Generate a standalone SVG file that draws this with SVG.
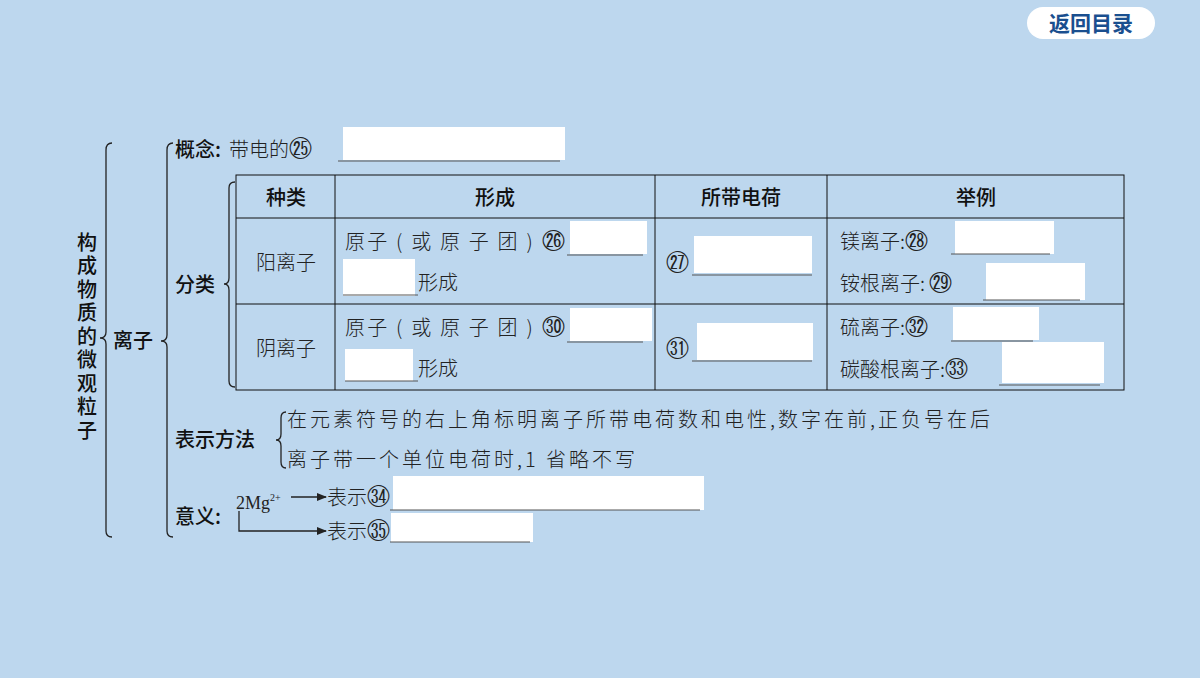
<svg xmlns="http://www.w3.org/2000/svg" width="1200" height="678" viewBox="0 0 1200 678">
<defs>
<style>
.h{font-family:"Noto Sans CJK SC","Noto Sans",sans-serif;font-size:20px;fill:#111;font-weight:500}
.s{font-family:"Noto Sans CJK SC",sans-serif;font-size:20px;fill:#222;font-weight:300}
.c{font-family:"DejaVu Sans",sans-serif;font-size:23px}
.ln{stroke:#222;fill:none;stroke-width:1.3}
.tb{stroke:#111;fill:none;stroke-width:1}
.w{fill:#fff}
.u{stroke:#555;stroke-width:1}
</style>
<marker id="ar" markerWidth="10" markerHeight="8" refX="9" refY="4" orient="auto" markerUnits="userSpaceOnUse"><path d="M0,0 L10,4 L0,8 Z" fill="#222"/></marker>
</defs>
<rect width="1200" height="678" fill="#bdd7ee"/>
<g id="back"><rect x="1027" y="7" width="128" height="32" rx="16" fill="#fff"/><text x="1091" y="31" text-anchor="middle" font-family="Noto Sans CJK SC,sans-serif" font-size="21" font-weight="bold" fill="#1a4f8f">返回目录</text></g>
<g id="connectors">
<path class="ln" d="M112,143 Q106,143 106,150 V332 Q106,338 100,338 Q106,338 106,344 V531 Q106,537 112,537"/>
<path class="ln" d="M173,143 Q167,143 167,150 V335 Q167,341 161,341 Q167,341 167,347 V531 Q167,537 173,537"/>
<path class="ln" d="M235,182 Q229,182 229,188 V278 Q229,284 224,284 Q229,284 229,290 V381 Q229,387 235,387"/>
<path class="ln" d="M286,412 Q281,412 281,418 V434 Q281,440 276,440 Q281,440 281,446 V462 Q281,468 286,468"/>
<line class="ln" x1="291" y1="497" x2="326" y2="497" marker-end="url(#ar)"/>
<path class="ln" d="M239,511 V531 H326" marker-end="url(#ar)"/>
</g>
<g id="title"><text class="h" x="87" y="232" letter-spacing="3.5" style="writing-mode:vertical-rl">构成物质的微观粒子</text></g>
<g id="ion"><text class="h" x="113" y="348">离子</text></g>
<g id="concept"><text class="h" x="175" y="157">概念:</text><text class="s" x="229" y="157">带电的<tspan class="c">㉕</tspan></text><rect class="w" x="343" y="127" width="222" height="33"/><line class="u" x1="338" y1="161" x2="560" y2="161"/></g>
<g id="classify"><text class="h" x="175" y="292">分类</text>
<rect class="tb" x="236" y="175" width="888" height="215" stroke-width="2"/>
<line class="tb" x1="335" y1="175" x2="335" y2="390"/><line class="tb" x1="655" y1="175" x2="655" y2="390"/><line class="tb" x1="827" y1="175" x2="827" y2="390"/>
<line class="tb" x1="236" y1="218" x2="1124" y2="218"/><line class="tb" x1="236" y1="304" x2="1124" y2="304"/>
<text class="h" x="286" y="205" text-anchor="middle">种类</text><text class="h" x="495" y="205" text-anchor="middle">形成</text><text class="h" x="741" y="205" text-anchor="middle">所带电荷</text><text class="h" x="976" y="205" text-anchor="middle">举例</text>
<text class="s" x="286" y="270" text-anchor="middle" font-size="21">阳离子</text><text class="s" x="286" y="356" text-anchor="middle" font-size="21">阴离子</text>
<text class="s" x="345" y="249" letter-spacing="2.2">原子 ( 或 原 子 团 ) <tspan class="c">㉖</tspan></text><rect class="w" x="570" y="221" width="77" height="33"/><line class="u" x1="567" y1="255" x2="643" y2="255"/>
<rect class="w" x="343" y="259" width="72" height="37"/><line class="u" x1="343" y1="295" x2="418" y2="295"/><text class="s" x="418" y="290">形成</text>
<text class="s" x="345" y="335" letter-spacing="2.2">原子 ( 或 原 子 团 ) <tspan class="c">㉚</tspan></text><rect class="w" x="570" y="308" width="82" height="33"/><line class="u" x1="567" y1="342" x2="643" y2="342"/>
<rect class="w" x="345" y="349" width="68" height="32"/><line class="u" x1="345" y1="381" x2="418" y2="381"/><text class="s" x="418" y="376">形成</text>
<text class="s c" x="666" y="271">㉗</text><rect class="w" x="694" y="236" width="118" height="37"/><line class="u" x1="692" y1="275" x2="812" y2="275"/>
<text class="s c" x="666" y="357">㉛</text><rect class="w" x="697" y="323" width="116" height="37"/><line class="u" x1="692" y1="361" x2="812" y2="361"/>
<text class="s" x="840" y="249">镁离子:<tspan class="c">㉘</tspan></text><rect class="w" x="955" y="221" width="99" height="33"/><line class="u" x1="951" y1="254" x2="1050" y2="254"/>
<text class="s" x="840" y="291">铵根离子: <tspan class="c">㉙</tspan></text><rect class="w" x="986" y="263" width="99" height="37"/><line class="u" x1="983" y1="300" x2="1080" y2="300"/>
<text class="s" x="840" y="335">硫离子:<tspan class="c">㉜</tspan></text><rect class="w" x="953" y="307" width="86" height="33"/><line class="u" x1="951" y1="341" x2="1033" y2="341"/>
<text class="s" x="840" y="377">碳酸根离子:<tspan class="c">㉝</tspan></text><rect class="w" x="1002" y="342" width="102" height="41"/><line class="u" x1="999" y1="385" x2="1100" y2="385"/>
</g>
<g id="method"><text class="h" x="175" y="447">表示方法</text><text class="s" x="287" y="427" font-size="21" letter-spacing="3">在元素符号的右上角标明离子所带电荷数和电性,数字在前,正负号在后</text><text class="s" x="287" y="467" font-size="21" letter-spacing="3">离子带一个单位电荷时,1 省略不写</text></g>
<g id="meaning"><text class="h" x="175" y="524">意义:</text>
<text x="236" y="509" font-family="Liberation Serif,serif" font-size="18" fill="#222">2Mg<tspan font-size="10" dy="-8">2+</tspan></text>
<text class="s" x="327" y="505">表示<tspan class="c">㉞</tspan></text><rect class="w" x="393" y="476" width="311" height="34"/><line class="u" x1="390" y1="510" x2="700" y2="510"/>
<text class="s" x="327" y="539">表示<tspan class="c">㉟</tspan></text><rect class="w" x="391" y="513" width="142" height="29"/><line class="u" x1="390" y1="542" x2="530" y2="542"/>
</g>
</svg>
